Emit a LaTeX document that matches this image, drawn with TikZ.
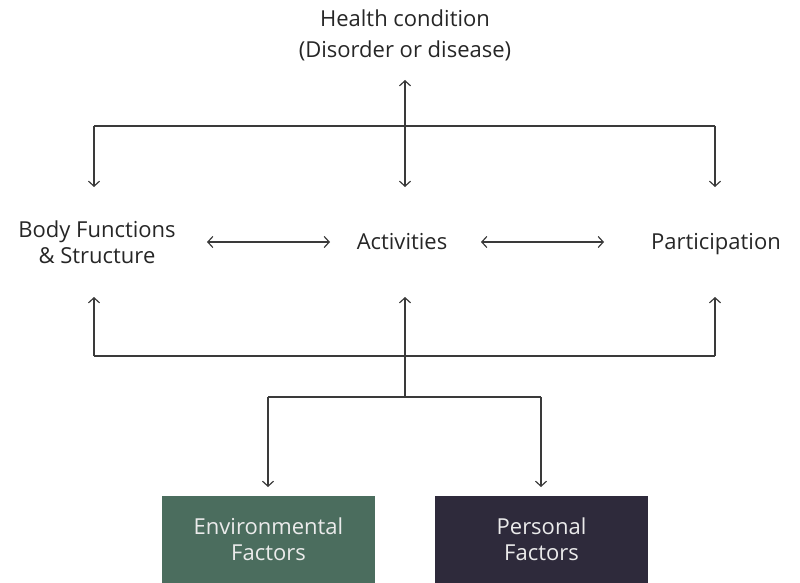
\documentclass[tikz,border=0pt]{standalone}
\usepackage{fontspec}
\setmainfont{Open Sans}
\usetikzlibrary{arrows.meta}
\definecolor{lineg}{HTML}{3A3A3A}
\definecolor{envgreen}{HTML}{4B6D5E}
\definecolor{persdark}{HTML}{2E2A3B}
\begin{document}
\begin{tikzpicture}[x=1pt,y=-1pt,
  conn/.style={draw=lineg,line width=1.3pt},
  barb/.tip={Straight Barb[length=5pt,width=11pt,line width=1.2pt]},
  tip/.style={-barb},
  dtip/.style={barb-barb},
  lbl/.style={font=\fontsize{22}{26}\selectfont,text=black!85,align=center,inner sep=0pt},
  one/.style={lbl,text height=0.72em,text depth=0.22em},
  factor/.style={minimum width=213pt,minimum height=87pt,inner sep=0pt,align=center,
     text=white!92!black,font=\fontsize{22}{26}\selectfont}]
\useasboundingbox (0,0) rectangle (800,583);
% texts
\node[lbl,font=\fontsize{22}{31}\selectfont] (hc) at (405,35) {Health condition\\(Disorder or disease)};
\node[lbl] (bf) at (97,242) {Body Functions\\\& Structure};
\node[one] (ac) at (402,247) {Activities};
\node[one] (pa) at (716,247) {Participation};
\node[factor,fill=envgreen] (env) at (268.5,539.5) {Environmental\\Factors};
\node[factor,fill=persdark] (per) at (541.5,539.5) {Personal\\Factors};
% coordinates
\coordinate (hcTop) at (405,80);
\coordinate (hcBot) at (405,187);
\coordinate (tl) at (94,126);
\coordinate (tr) at (715,126);
\coordinate (tlEnd) at (94,187);
\coordinate (trEnd) at (715,187);
\coordinate (bfR) at (207,242);
\coordinate (acL) at (330,242);
\coordinate (acR) at (481,242);
\coordinate (paL) at (604,242);
\coordinate (bl) at (94,356);
\coordinate (bm) at (405,356);
\coordinate (br) at (715,356);
\coordinate (blTip) at (94,297);
\coordinate (bmTip) at (405,297);
\coordinate (brTip) at (715,297);
\coordinate (jm) at (405,397);
\coordinate (jl) at (268,397);
\coordinate (jr) at (541,397);
\coordinate (envTip) at (268,487);
\coordinate (perTip) at (541,487);
% top connectors
\draw[conn,tip] (hcTop |- tl) -- (hcTop);
\draw[conn,tip] (hcTop |- tl) -- (hcBot);
\draw[conn] (tl) -- (tr);
\draw[conn,tip] (tl) -- (tlEnd);
\draw[conn,tip] (tr) -- (trEnd);
% middle
\draw[conn,dtip] (bfR) -- (acL);
\draw[conn,dtip] (acR) -- (paL);
% bottom
\draw[conn] (bl) -- (br);
\draw[conn,tip] (bl) -- (blTip);
\draw[conn,tip] (bm) -- (bmTip);
\draw[conn,tip] (br) -- (brTip);
\draw[conn] (bm) -- (jm);
\draw[conn] (jl) -- (jr);
\draw[conn,tip] (jl) -- (envTip);
\draw[conn,tip] (jr) -- (perTip);
\end{tikzpicture}
\end{document}
